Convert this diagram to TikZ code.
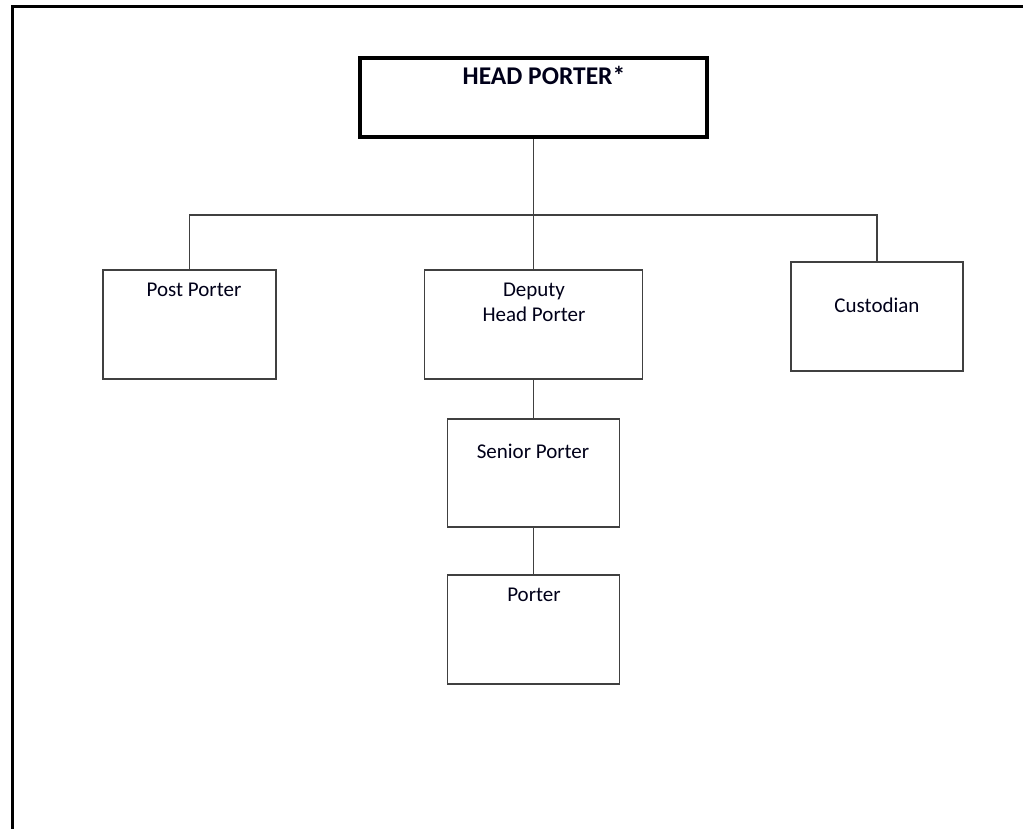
\documentclass[tikz,border=0pt]{standalone}
\usepackage{fontspec}
\setmainfont{Carlito}
\begin{document}
\begin{tikzpicture}[x=1pt,y=-1pt,
  box/.style={draw=black!75, line width=1.3pt, rectangle, inner sep=0pt},
  headbox/.style={draw=black, line width=4.5pt, rectangle, inner sep=0pt},
  lbl/.style={font=\fontsize{21}{25}\selectfont, text=black!90!blue, align=center, inner sep=0pt},
  hlbl/.style={font=\fontsize{25.5}{30}\selectfont\bfseries, text=black!90!blue, inner sep=0pt},
  conn/.style={draw=black!75, line width=1.3pt}]
\useasboundingbox (0,0) rectangle (1023,829);
\fill[white] (0,0) rectangle (1023,829);
% frame
\draw[line width=2.2pt] (12.5,830) -- (12.5,6.5) -- (1024,6.5);
% boxes
\node[headbox, minimum width=347, minimum height=79] (head) at (533.5,97.5) {};
\node[box, minimum width=173, minimum height=109] (post) at (189.5,324.5) {};
\node[box, minimum width=218, minimum height=109] (deputy) at (533.5,324.5) {};
\node[box, minimum width=172, minimum height=109] (cust) at (877,316.5) {};
\node[box, minimum width=172, minimum height=108] (senior) at (533.5,473) {};
\node[box, minimum width=172, minimum height=109] (porter) at (533.5,629.5) {};
% labels
\node[hlbl] (headt) at (544,75) {HEAD PORTER*};
\node[lbl] (postt) at (194,290) {Post Porter};
\node[lbl] (deputyt) at (534,302.5) {Deputy\\Head Porter};
\node[lbl] (custt) at (877,305) {Custodian};
\node[lbl] (seniort) at (533,451) {Senior Porter};
\node[lbl] (portert) at (534,595) {Porter};
% connectors
\coordinate (bus) at (533.5,215);
\draw[conn] (head.south) -- (deputy.north);
\draw[conn] (post.north) |- (bus) -| (cust.north);
\draw[conn] (deputy.south) -- (senior.north);
\draw[conn] (senior.south) -- (porter.north);
\end{tikzpicture}
\end{document}
